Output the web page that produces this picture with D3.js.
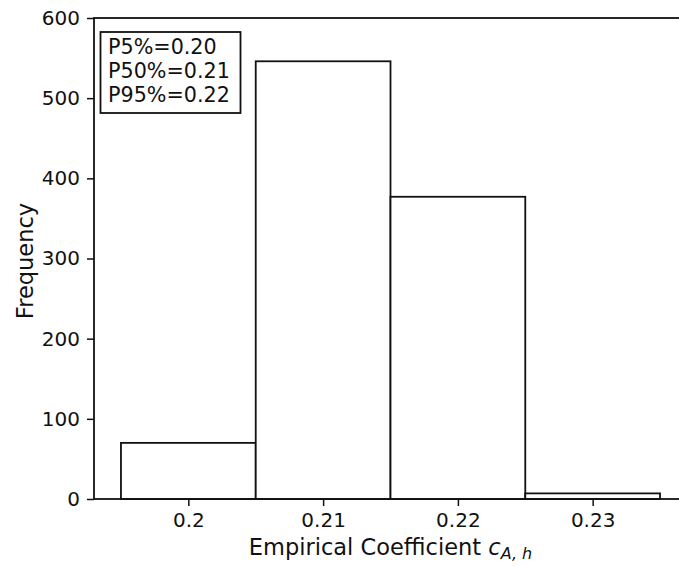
<!DOCTYPE html>
<html>
<head>
<meta charset="utf-8">
<script src="https://cdn.jsdelivr.net/npm/d3@7"></script>
<style>
  html, body { margin: 0; padding: 0; background: #fff; }
  text { font-family: "DejaVu Sans", sans-serif; fill: #111; }
</style>
</head>
<body>
<svg id="chart" width="679" height="566"></svg>
<script>
// Histogram bins (edges) and counts
const binStarts = [0.195, 0.205, 0.215, 0.225];
const binWidth = 0.01;
const counts = [70, 546, 377, 7];
const xTicks = [0.2, 0.21, 0.22, 0.23];
const xTickLabels = ["0.2", "0.21", "0.22", "0.23"];
const yTicks = [0, 100, 200, 300, 400, 500, 600];
const statLines = ["P5%=0.20", "P50%=0.21", "P95%=0.22"];

const svg = d3.select("#chart");
const plotLeft = 94, plotRight = 687, plotTop = 18, plotBottom = 499;

const x = d3.scaleLinear().domain([0.193, 0.237]).range([plotLeft, plotRight]);
const y = d3.scaleLinear().domain([0, 600]).range([plotBottom, plotTop]);

// bars
svg.append("g").selectAll("rect")
  .data(binStarts.map((s, i) => ({ s, c: counts[i] })))
  .join("rect")
  .attr("x", d => x(d.s))
  .attr("y", d => y(d.c))
  .attr("width", d => x(d.s + binWidth) - x(d.s))
  .attr("height", d => y(0) - y(d.c))
  .attr("fill", "#fff")
  .attr("stroke", "#111")
  .attr("stroke-width", 1.8);

// axes
const xAxis = d3.axisBottom(x).tickValues(xTicks)
  .tickFormat((d, i) => xTickLabels[i]).tickSize(7).tickPadding(7);
const gx = svg.append("g").attr("transform", `translate(0,${plotBottom})`).call(xAxis);
const yAxis = d3.axisLeft(y).tickValues(yTicks).tickSize(7).tickPadding(7);
const gy = svg.append("g").attr("transform", `translate(${plotLeft},0)`).call(yAxis);

[gx, gy].forEach(g => {
  g.select(".domain").remove();
  g.selectAll(".tick line").attr("stroke", "#111").attr("stroke-width", 1.5);
  g.selectAll(".tick text").attr("font-size", 20).attr("fill", "#111")
    .style("font-family", "DejaVu Sans, sans-serif");
});

// frame (spines)
svg.append("rect")
  .attr("x", plotLeft).attr("y", plotTop)
  .attr("width", plotRight - plotLeft).attr("height", plotBottom - plotTop)
  .attr("fill", "none").attr("stroke", "#111").attr("stroke-width", 1.8);

// axis labels
const xl = svg.append("text")
  .attr("x", (plotLeft + plotRight) / 2).attr("y", 555)
  .attr("text-anchor", "middle").attr("font-size", 22.5);
xl.append("tspan").text("Empirical Coefficient ");
xl.append("tspan").attr("font-style", "italic").text("c");
xl.append("tspan").attr("font-style", "italic").attr("font-size", 16).attr("dy", 4).text("A, h");

svg.append("text")
  .attr("transform", "translate(33,261) rotate(-90)")
  .attr("text-anchor", "middle").attr("font-size", 22.5)
  .text("Frequency");

// percentile annotation box
const box = svg.append("g");
box.append("rect")
  .attr("x", 100.5).attr("y", 32).attr("width", 140).attr("height", 81)
  .attr("fill", "#fff").attr("stroke", "#111").attr("stroke-width", 1.8);
box.selectAll("text.stat").data(statLines).join("text")
  .attr("class", "stat")
  .attr("x", 108).attr("y", (d, i) => 53.5 + i * 24.2)
  .attr("font-size", 20.7)
  .text(d => d);
</script>
</body>
</html>
